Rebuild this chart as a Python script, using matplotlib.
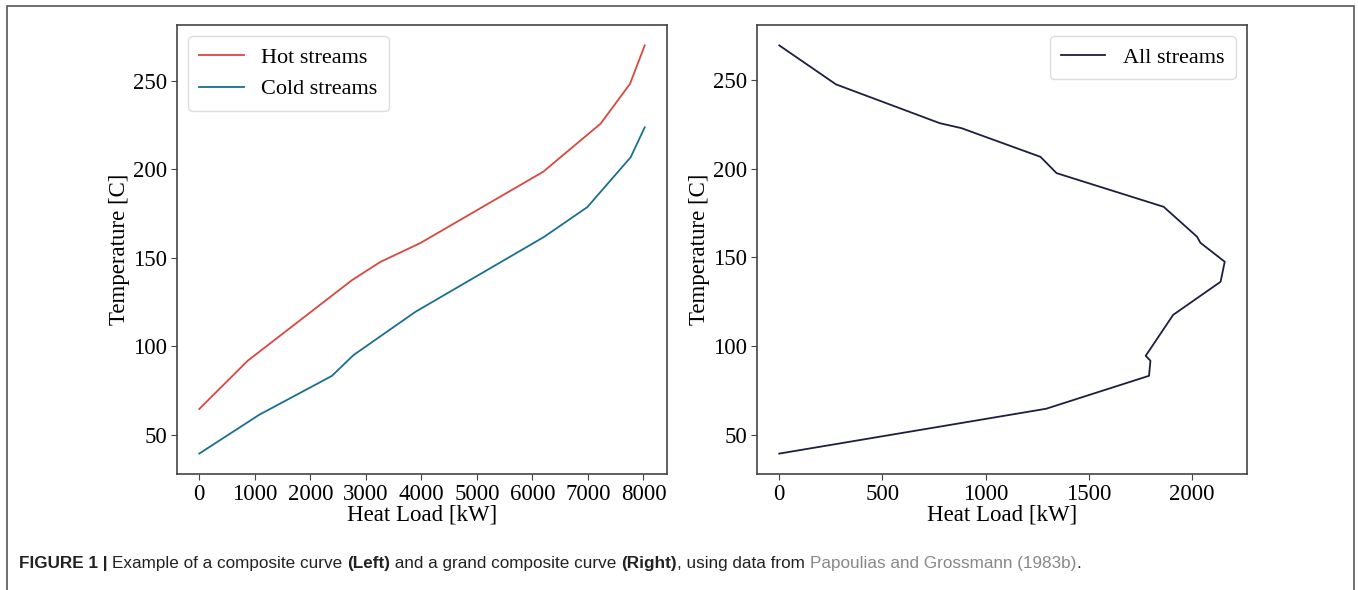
import matplotlib
matplotlib.use("Agg")
import matplotlib.pyplot as plt
from matplotlib.patches import Rectangle

# composite curves
hot_q = [0, 873, 2749, 3260, 3982, 6195, 7229, 7758, 8023]
hot_t = [64.5, 91.8, 137.3, 147.6, 158.3, 198.6, 225.8, 248.3, 270.0]

cold_q = [0, 1083, 2388, 2779, 3892, 6206, 6989, 7770, 8023]
cold_t = [39.3, 61.3, 83.2, 95.0, 119.4, 161.7, 178.6, 206.8, 223.7]

# grand composite curve
gcc_q = [0, 275, 778, 883, 1266, 1344, 1863, 2025, 2041, 2159, 2139, 1909, 1776, 1799, 1792, 1293, 0]
gcc_t = [269.7, 247.7, 225.8, 223.0, 206.8, 197.6, 178.6, 161.7, 158.3, 147.6, 136.3, 117.6, 94.5, 91.7, 83.2, 64.6, 39.3]

plt.rcParams['font.family'] = ['Liberation Serif', 'DejaVu Serif']
plt.rcParams['axes.edgecolor'] = '#444444'
plt.rcParams['axes.linewidth'] = 1.2

W, H = 1358, 590
fig = plt.figure(figsize=(W / 100, H / 100), dpi=100)

ax1 = fig.add_axes([177 / W, 1 - 474 / H, (667 - 177) / W, (474 - 25) / H])
ax2 = fig.add_axes([757 / W, 1 - 474 / H, (1247 - 757) / W, (474 - 25) / H])

ax1.plot(hot_q, hot_t, color="#d9473f", lw=1.3, label="Hot streams")
ax1.plot(cold_q, cold_t, color="#1b6f8f", lw=1.3, label="Cold streams")
ax1.set_xticks(range(0, 8001, 1000))
ax1.legend(loc="upper left", fontsize=16, handlelength=2.0, borderpad=0.5,
           edgecolor="#dddddd", framealpha=1)

ax2.plot(gcc_q, gcc_t, color="#1c1f3f", lw=1.3, label="All streams")
ax2.set_xticks(range(0, 2001, 500))
ax2.legend(loc="upper right", fontsize=16, handlelength=2.0, borderpad=0.5,
           edgecolor="#dddddd", framealpha=1)

for ax in (ax1, ax2):
    ax.set_xlabel("Heat Load [kW]", fontsize=16.5, labelpad=0)
    ax.set_ylabel("Temperature [C]", fontsize=16.5, labelpad=2)
    ax.set_yticks([50, 100, 150, 200, 250])
    ax.tick_params(labelsize=16.5, color="#444444", length=4, pad=3)

# outer frame
fig.patches.append(Rectangle((7 / W, -0.02), (1354 - 7) / W, 1.02 - 6 / H,
                             transform=fig.transFigure, fill=False,
                             edgecolor="#555555", lw=1.2))

# caption, drawn in pieces
cap_font = ['Liberation Sans Narrow', 'Liberation Sans', 'DejaVu Sans']
pieces = [
    ("FIGURE 1 | ", "bold", "#222222"),
    ("Example of a composite curve ", "normal", "#222222"),
    ("(Left)", "bold", "#222222"),
    (" and a grand composite curve ", "normal", "#222222"),
    ("(Right)", "bold", "#222222"),
    (", using data from ", "normal", "#222222"),
    ("Papoulias and Grossmann (1983b)", "normal", "#888888"),
    (".", "normal", "#222222"),
]
renderer = fig.canvas.get_renderer()
x = 19 / W
y = 1 - 568 / H
for txt, weight, col in pieces:
    t = fig.text(x, y, txt, fontsize=12.3, fontweight=weight, color=col,
                 family=cap_font, va="baseline", ha="left")
    bb = t.get_window_extent(renderer=renderer)
    x += bb.width / W

fig.savefig("out.png", dpi=100)
